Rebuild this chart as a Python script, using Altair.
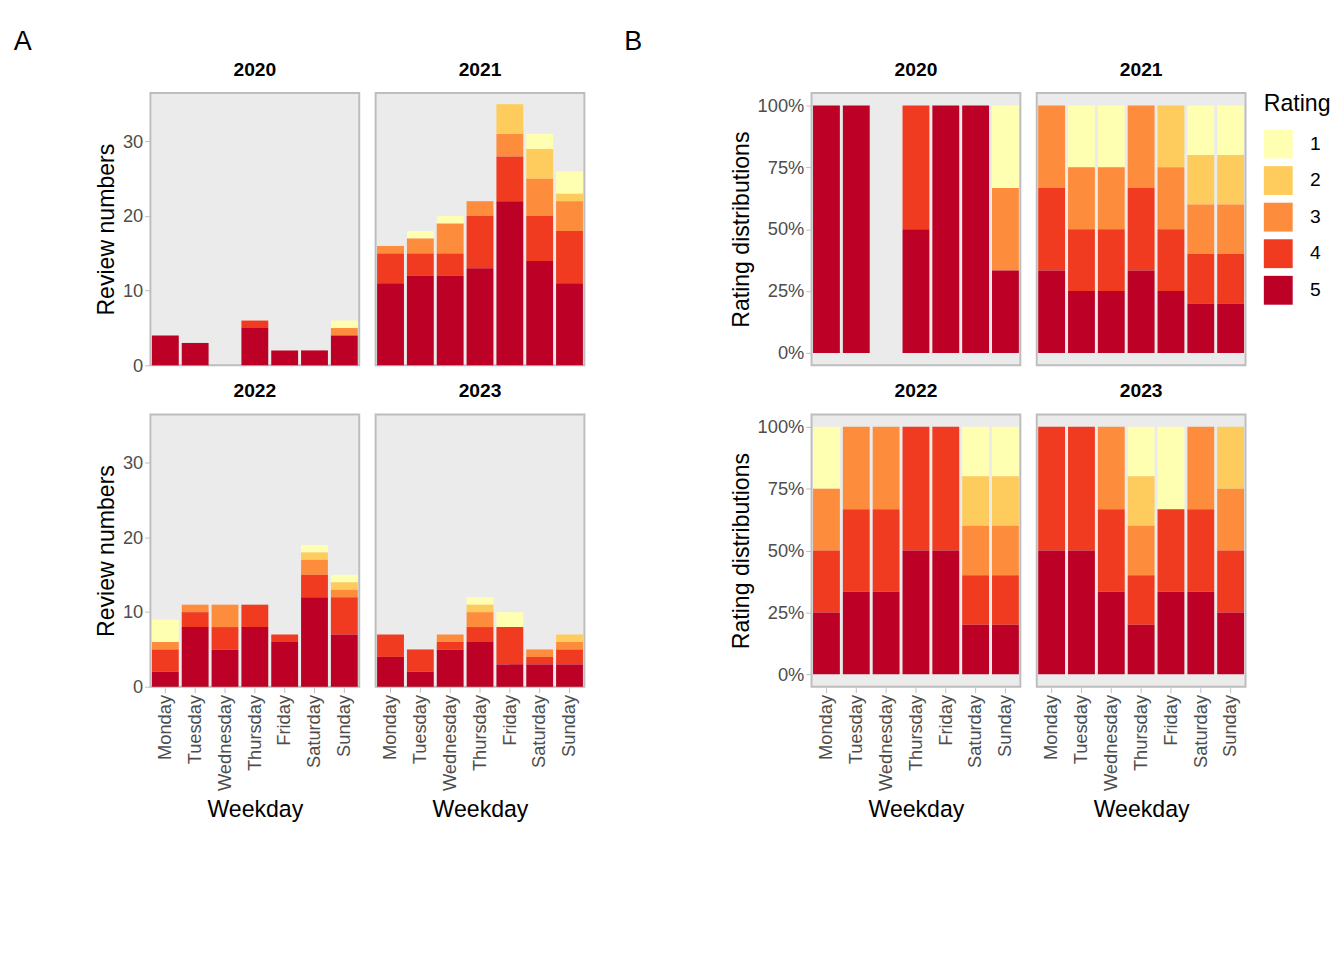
import altair as alt
import pandas as pd

weekdays = ["Monday", "Tuesday", "Wednesday", "Thursday", "Friday", "Saturday", "Sunday"]
years = ["2020", "2021", "2022", "2023"]
ratings = ["1", "2", "3", "4", "5"]
colors = ["#FFFFB2", "#FECC5C", "#FD8D3C", "#F03B20", "#BD0026"]

# review counts per weekday (Mon..Sun) for each rating
counts_2020 = {"5": [4, 3, 0, 5, 2, 2, 4], "4": [0, 0, 0, 1, 0, 0, 0],
               "3": [0, 0, 0, 0, 0, 0, 1], "2": [0, 0, 0, 0, 0, 0, 0],
               "1": [0, 0, 0, 0, 0, 0, 1]}
counts_2021 = {"5": [11, 12, 12, 13, 22, 14, 11], "4": [4, 3, 3, 7, 6, 6, 7],
               "3": [1, 2, 4, 2, 3, 5, 4], "2": [0, 0, 0, 0, 4, 4, 1],
               "1": [0, 1, 1, 0, 0, 2, 3]}
counts_2022 = {"5": [2, 8, 5, 8, 6, 12, 7], "4": [3, 2, 3, 3, 1, 3, 5],
               "3": [1, 1, 3, 0, 0, 2, 1], "2": [0, 0, 0, 0, 0, 1, 1],
               "1": [3, 0, 0, 0, 0, 1, 1]}
counts_2023 = {"5": [4, 2, 5, 6, 3, 3, 3], "4": [3, 3, 1, 2, 5, 1, 2],
               "3": [0, 0, 1, 2, 0, 1, 1], "2": [0, 0, 0, 1, 0, 0, 1],
               "1": [0, 0, 0, 1, 2, 0, 0]}
all_counts = dict(zip(years, [counts_2020, counts_2021, counts_2022, counts_2023]))

rows = []
for y, cnt in all_counts.items():
    for r in ratings:
        for i, d in enumerate(weekdays):
            if cnt[r][i] > 0:
                rows.append({"year": y, "weekday": d, "rating": r, "n": cnt[r][i], "w": 1})
df = pd.DataFrame(rows)

FONT = "Liberation Sans"
color = alt.Color("rating:N", title="Rating",
                  scale=alt.Scale(domain=ratings, range=colors),
                  legend=alt.Legend(symbolType="square", symbolSize=900,
                                    symbolStrokeWidth=0, labelFontSize=20,
                                    titleFontSize=24, titleFontWeight="normal",
                                    labelOffset=18, titlePadding=14,
                                    rowPadding=8))
order = alt.Order("rating:N", sort="descending")
x = alt.X("weekday:N", title="Weekday", scale=alt.Scale(domain=weekdays, paddingInner=0.1, paddingOuter=0.05),
          axis=alt.Axis(labelAngle=-90, labelFontSize=19, titleFontSize=24,
                        labelColor="#4D4D4D", titleFontWeight="normal",
                        domain=False, tickColor="#BDBDBD", titlePadding=8))

facet = alt.Facet("year:N", title=None,
                  header=alt.Header(labelFontSize=20, labelFontWeight="bold",
                                    labelColor="black", labelPadding=14, labelFont=FONT))

a = alt.Chart(df).mark_bar().encode(
    x=x,
    y=alt.Y("sum(n):Q", title="Review numbers",
            scale=alt.Scale(domain=[0, 36.5], nice=False),
            axis=alt.Axis(values=[0, 10, 20, 30], grid=False, domain=False,
                          labelFontSize=19, titleFontSize=24, labelColor="#4D4D4D",
                          titleFontWeight="normal", tickColor="#BDBDBD")),
    color=color, order=order,
).properties(width=217, height=283).facet(facet=facet, columns=2, spacing=15).properties(
    title=alt.TitleParams("A", anchor="start", fontSize=28, fontWeight="normal", dx=-85))

b = alt.Chart(df).mark_bar().encode(
    x=x,
    y=alt.Y("sum(w):Q", title="Rating distributions", stack="normalize",
            scale=alt.Scale(domain=[-0.05, 1.05], nice=False),
            axis=alt.Axis(values=[0, 0.25, 0.5, 0.75, 1], format=".2f", grid=False,
                          domain=False, labelFontSize=19, titleFontSize=24,
                          labelColor="#4D4D4D", titleFontWeight="normal",
                          tickColor="#BDBDBD")),
    color=color, order=order,
).properties(width=217, height=283).facet(facet=facet, columns=2, spacing=15).properties(
    title=alt.TitleParams("B", anchor="start", fontSize=28, fontWeight="normal", dx=-110))

chart = alt.hconcat(a, b, spacing=40).configure(font=FONT).configure_view(
    fill="#EBEBEB", stroke="#BDBDBD", strokeWidth=2
).configure_legend(labelFont=FONT, titleFont=FONT)

chart.save("out.html", embed_options={"renderer": "svg", "actions": False})
